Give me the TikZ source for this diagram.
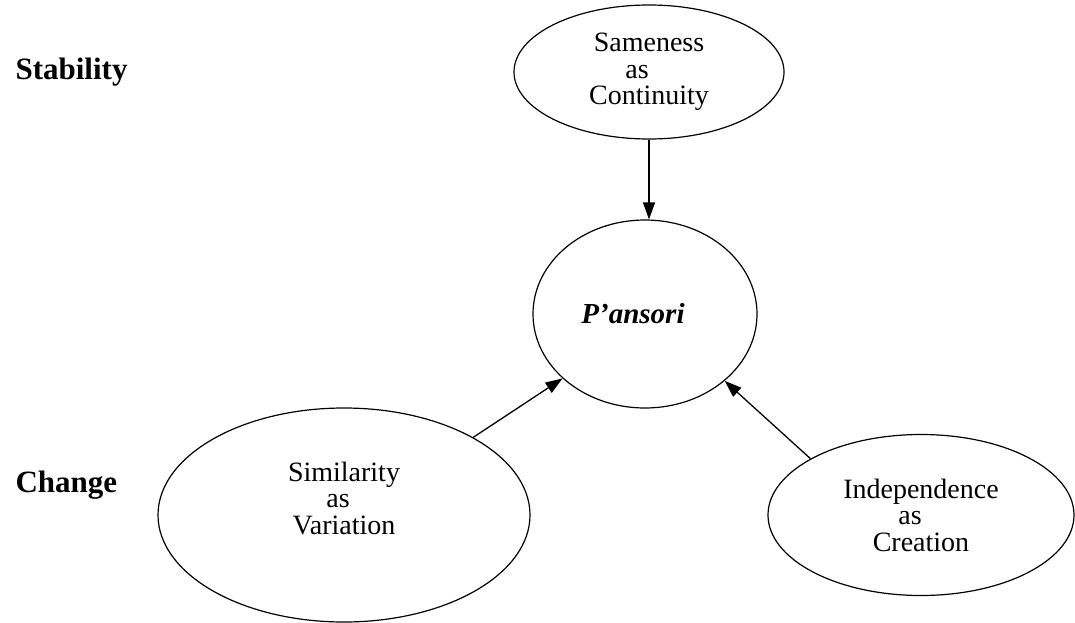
\documentclass[tikz,border=0pt]{standalone}
\usepackage{fontspec}
\setmainfont{Liberation Serif}
\usepackage{tikz}
\usetikzlibrary{positioning,arrows.meta,calc,shapes.geometric}

\begin{document}
\begin{tikzpicture}[x=1pt,y=-1pt,
    bubble/.style={draw, ellipse, line width=1.2pt, inner sep=0pt, align=center,
        font=\fontsize{28}{26.5}\selectfont},
    sidelabel/.style={anchor=base west, font=\fontsize{31}{31}\selectfont\bfseries},
    link/.style={line width=1.3pt, -{Triangle[length=17pt,width=12pt]}}]
    % Frame
    \useasboundingbox (0,0) rectangle (1075,623);

    % Row labels
    \node[sidelabel] (stab) at (12,80) {Stability};
    \node[sidelabel] (chg) at (12,492) {Change};

    % Ellipses
    \node[bubble, minimum width=270pt, minimum height=134pt] (same) at (649,72)
        {Sameness\\as\rule{24pt}{0pt}\\Continuity};
    \node[bubble, minimum width=224pt, minimum height=188pt] (pans) at (645,314)
        {\fontsize{29}{29}\selectfont\bfseries\itshape P’ansori\rule{24pt}{0pt}};
    \node[bubble, minimum width=372pt, minimum height=214pt] (simil) at (344,515)
        {Similarity\\as\rule{12pt}{0pt}\\Variation\\[7pt]};
    \node[bubble, minimum width=306pt, minimum height=161pt] (indep) at (921,515)
        {Independence\\as\rule{22pt}{0pt}\\Creation};

    % Arrows
    \draw[link] (same.south) -- (same.south |- pans.north);
    \draw[link] (simil.31) -- (pans.218);
    \draw[link] (indep.153) -- (pans.320);
\end{tikzpicture}
\end{document}
